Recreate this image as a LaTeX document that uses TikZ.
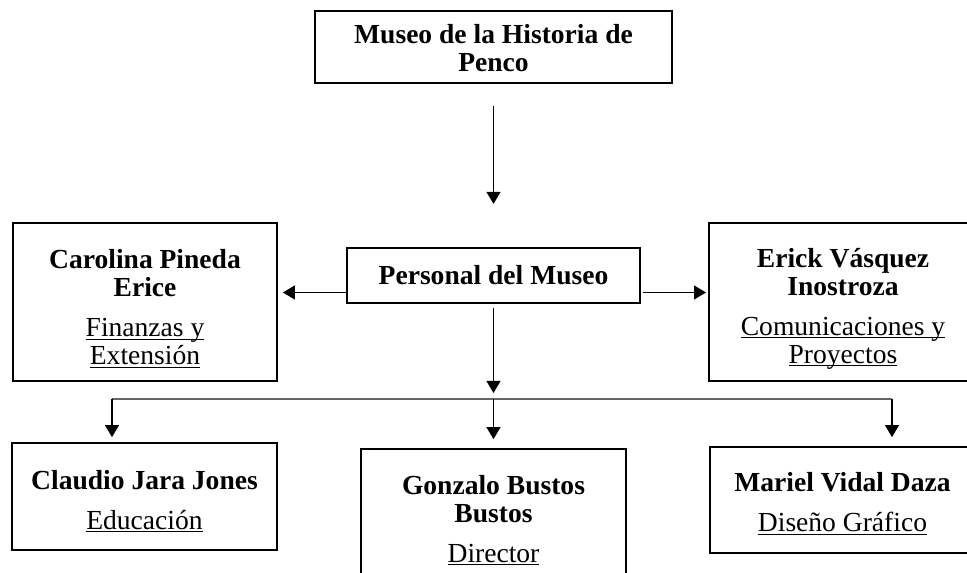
\documentclass[tikz,border=0pt]{standalone}
\usepackage{fontspec}
\setmainfont{Liberation Serif}
\usetikzlibrary{arrows.meta,calc,positioning}

\newlength{\ulwd}
\newcommand{\uln}[1]{\settowidth{\ulwd}{#1}\rlap{\rule[-1.4pt]{\ulwd}{0.5pt}}#1}
% pushes the text block of a box a little down
\newcommand{\lowr}[1]{\rule{0pt}{#1}}

\begin{document}
\begin{tikzpicture}[x=0.45pt, y=-0.45pt,
		box/.style={draw, line width=0.85pt, align=center, inner sep=2pt, font=\fontsize{12.4pt}{12.6pt}\selectfont},
		arr/.style={-{Triangle[width=6.2pt,length=5.4pt]}, line width=0.75pt},
		branchline/.style={draw=black!60, line width=0.55pt}
		]
	\useasboundingbox (0,0) rectangle (967,573);
	\clip (0,0) rectangle (967,573);

	\node[box, minimum width=160.7pt, minimum height=32.4pt] (museo) at (493.5,47) {\lowr{10pt}\textbf{Museo de la Historia de}\\\textbf{Penco}};
	\node[box, minimum width=131.9pt, minimum height=24.75pt] (personal) at (493.5,275.5) {\textbf{Personal del Museo}};

	\node[box, minimum width=118.8pt, minimum height=71.1pt] (carolina) at (145,302) {\lowr{14.5pt}\textbf{Carolina Pineda}\\\textbf{Erice}\\[5.4pt]\uln{Finanzas y}\\\uln{Extensión}};
	\node[box, minimum width=120.6pt, minimum height=71.1pt] (erick) at (843,302) {\lowr{14.5pt}\textbf{Erick Vásquez}\\\textbf{Inostroza}\\[5.4pt]\uln{Comunicaciones y}\\\uln{Proyectos}};

	\node[box, minimum width=119.25pt, minimum height=48.15pt] (claudio) at (144.5,496.5) {\lowr{13pt}\textbf{Claudio Jara Jones}\\[5.4pt]\uln{Educación}};
	\node[box, minimum width=119.25pt, minimum height=63.9pt] (gonzalo) at (493.5,520) {\textbf{Gonzalo Bustos}\\\textbf{Bustos}\\[5.4pt]\uln{Director}};
	\node[box, minimum width=119.25pt, minimum height=47.7pt] (mariel) at (842.5,500) {\lowr{12pt}\textbf{Mariel Vidal Daza}\\[5.4pt]\uln{Diseño Gráfico}};

	\coordinate (branch) at (493.5,399);
	\coordinate (bl) at (112,399);
	\coordinate (br) at (892,399);

	% museo -> personal
	\draw[arr, shorten <=9.9pt, shorten >=19.4pt] (museo) -- (personal);
	% personal -> sides
	\draw[arr, shorten >=2.2pt] ([yshift=-7.65pt]personal.west) -- ([yshift=-7.65pt]personal.west -| carolina.east);
	\draw[arr, shorten <=0.9pt, shorten >=0.9pt] ([yshift=-7.65pt]personal.east) -- ([yshift=-7.65pt]personal.east -| erick.west);
	% personal -> bottom row
	\draw[arr, shorten <=1.8pt, shorten >=2.7pt] (personal) -- (branch);
	\draw[branchline] (bl) -- (br);
	\draw[arr, shorten >=2.2pt] (bl) -- (bl |- claudio.north);
	\draw[arr, shorten >=4pt] (branch) -- (gonzalo);
	\draw[arr, shorten >=4pt] (br) -- (br |- mariel.north);

\end{tikzpicture}
\end{document}
